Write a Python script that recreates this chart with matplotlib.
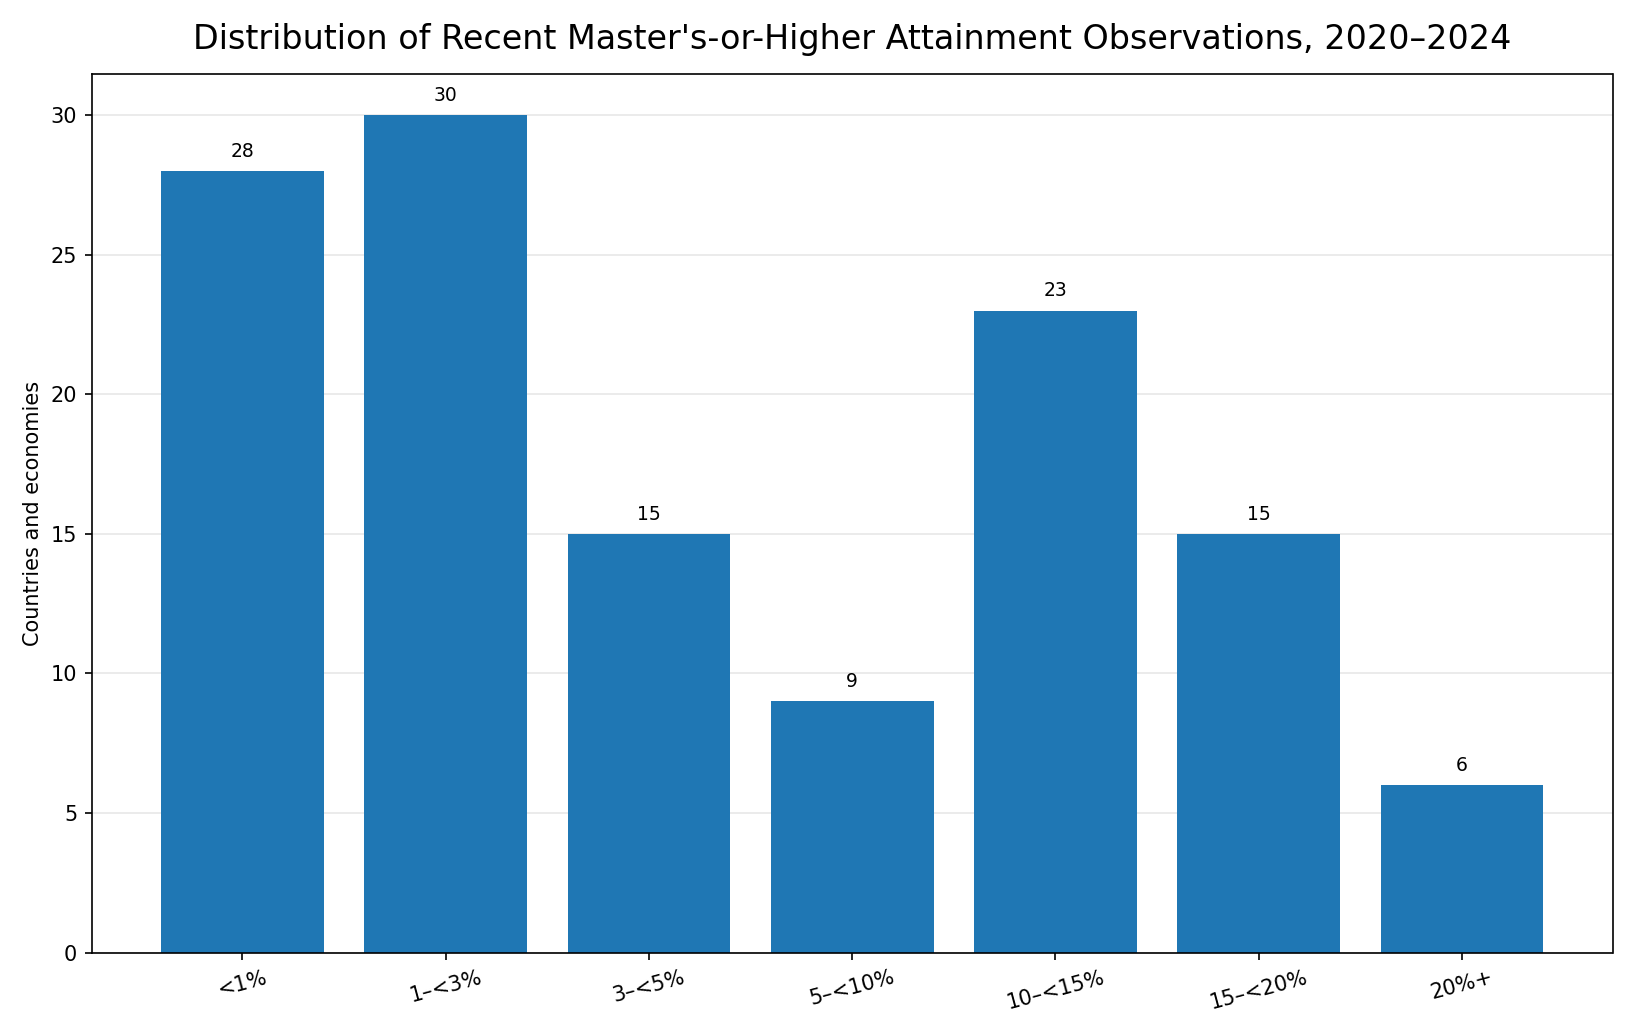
import matplotlib
matplotlib.use("Agg")
import matplotlib.pyplot as plt

categories = ["<1%", "1–<3%", "3–<5%", "5–<10%", "10–<15%", "15–<20%", "20%+"]
counts = [28, 30, 15, 9, 23, 15, 6]

fig, ax = plt.subplots(figsize=(10.9, 6.9), dpi=150)
bars = ax.bar(categories, counts, color="#1f77b4", zorder=2)
for b, v in zip(bars, counts):
    ax.annotate(str(v), (b.get_x() + b.get_width() / 2, v), xytext=(0, 5),
                textcoords="offset points", ha="center", va="bottom", fontsize=9)
ax.set_ylabel("Countries and economies")
ax.set_title("Distribution of Recent Master's-or-Higher Attainment Observations, 2020–2024",
             fontsize=16, pad=12)
ax.yaxis.grid(True, color="#e8e8e8", linewidth=0.8, zorder=0)
ax.set_axisbelow(True)
ax.set_ylim(0, 31.5)
plt.setp(ax.get_xticklabels(), rotation=15)
fig.tight_layout()
fig.savefig("out.png")
